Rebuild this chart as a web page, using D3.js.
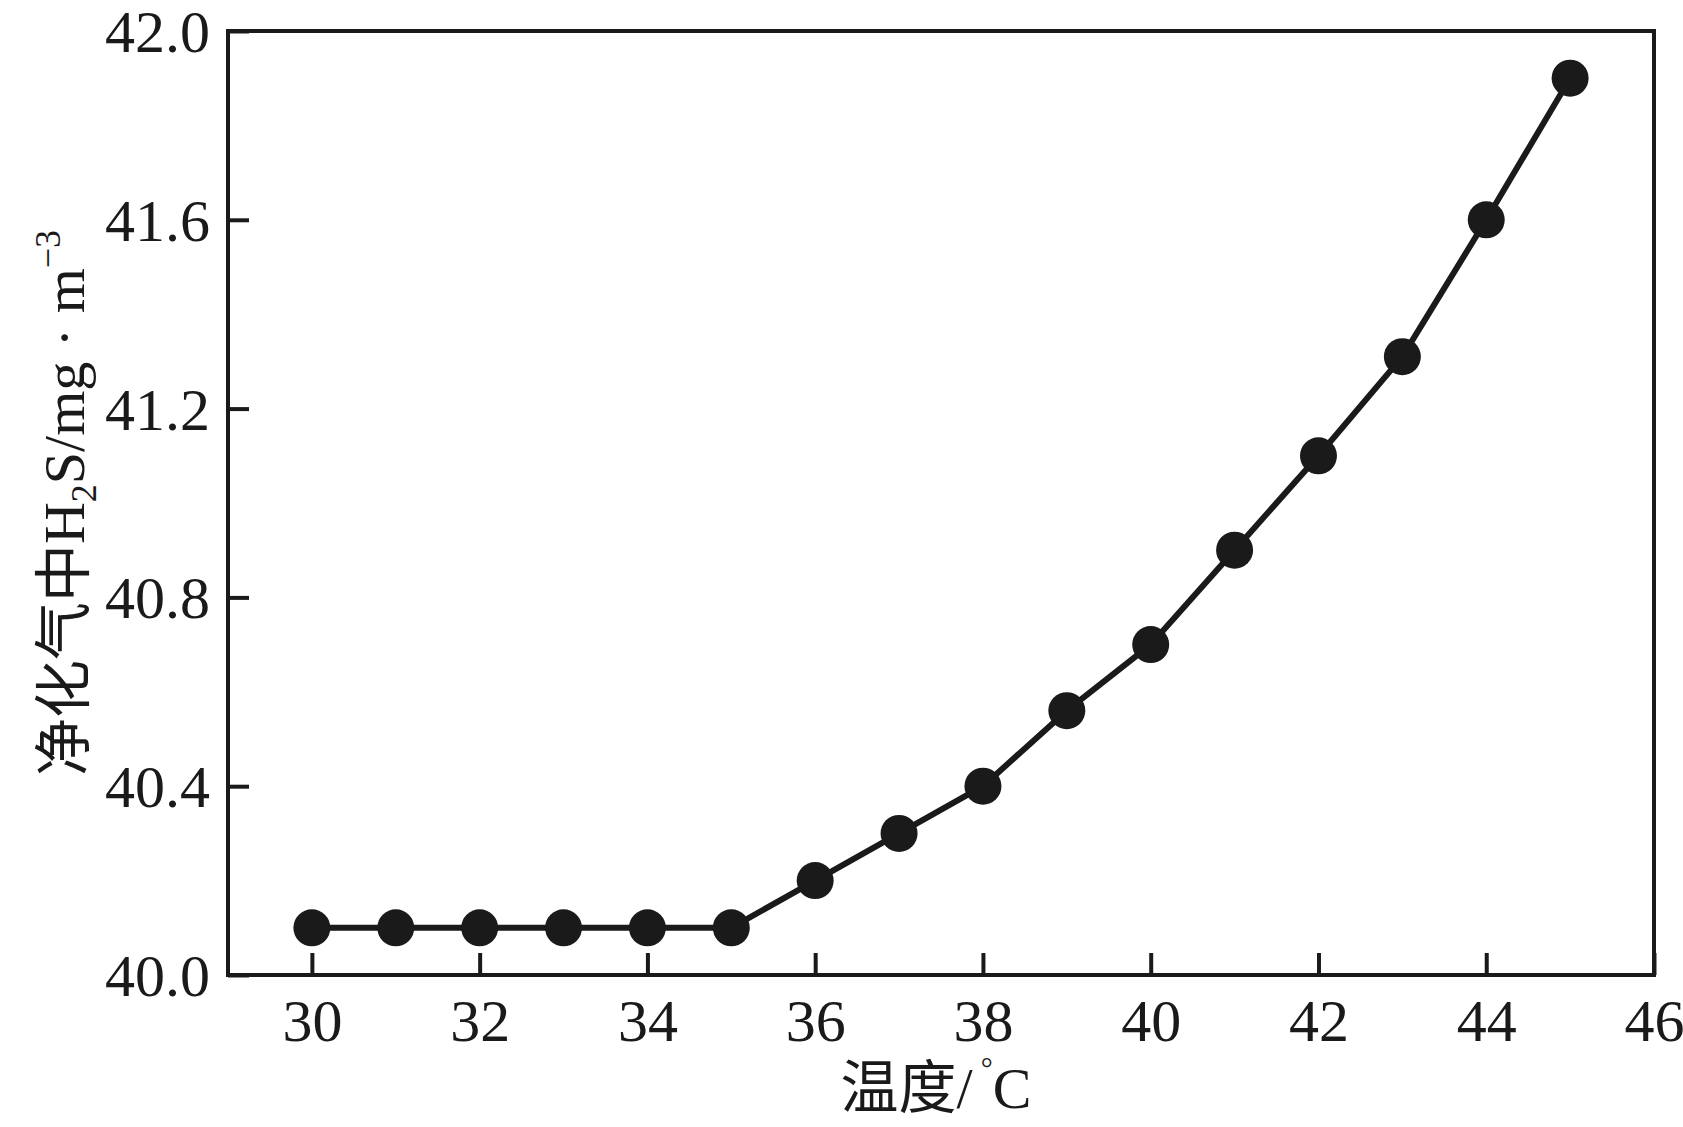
<!DOCTYPE html>
<html lang="zh">
	<head>
		<meta charset="utf-8">
		<title>温度与净化气中H2S</title>
		<script src="https://d3js.org/d3.v7.min.js"></script>
		<style>
			body { margin: 0; background: #fff; }
			text { font-family: "Liberation Serif", "Noto Sans CJK SC", serif; fill: #1a1a1a; }
		</style>
	</head>
	<body>
		<script type="text/javascript">

			// data
			var temps = [30, 31, 32, 33, 34, 35, 36, 37, 38, 39, 40, 41, 42, 43, 44, 45];
			var h2s = [40.1, 40.1, 40.1, 40.1, 40.1, 40.1, 40.2, 40.3, 40.4, 40.56, 40.7, 40.9, 41.1, 41.31, 41.6, 41.9];
			var xTicks = [30, 32, 34, 36, 38, 40, 42, 44, 46];
			var yTicks = [40.0, 40.4, 40.8, 41.2, 41.6, 42.0];

			var w = 1683;
			var h = 1127;
			var plotL = 228, plotR = 1654, plotT = 31, plotB = 975;
			var ink = "#1a1a1a";

			var xScale = d3.scaleLinear().domain([29, 46]).range([plotL, plotR]);
			var yScale = d3.scaleLinear().domain([40, 42]).range([plotB, plotT]);

			var svg = d3.select("body").append("svg").attr("width", w).attr("height", h);

			// axes, ticks pointing inward
			var xAxis = d3.axisBottom(xScale).tickValues(xTicks).tickFormat(d3.format("d"))
				.tickSizeInner(-22).tickSizeOuter(0).tickPadding(23);
			var yAxis = d3.axisLeft(yScale).tickValues(yTicks).tickFormat(d3.format(".1f"))
				.tickSizeInner(-21).tickSizeOuter(0).tickPadding(18);

			var gx = svg.append("g").attr("transform", "translate(0," + plotB + ")").call(xAxis);
			var gy = svg.append("g").attr("transform", "translate(" + plotL + ",0)").call(yAxis);

			[gx, gy].forEach(function(g) {
				g.select(".domain").remove();
				g.selectAll(".tick line").attr("stroke", ink).attr("stroke-width", 4);
				g.selectAll(".tick text").attr("font-size", 60)
					.style("font-family", "'Liberation Serif', serif").attr("fill", ink);
			});
			gx.selectAll(".tick text").attr("dy", "0.72em");
			gy.selectAll(".tick text").attr("dy", "0.34em");

			// frame
			svg.append("rect")
				.attr("x", plotL).attr("y", plotT)
				.attr("width", plotR - plotL).attr("height", plotB - plotT)
				.attr("fill", "none").attr("stroke", ink).attr("stroke-width", 4);

			// line + markers
			var pts = temps.map(function(t, i) { return [t, h2s[i]]; });
			var line = d3.line()
				.x(function(d) { return xScale(d[0]); })
				.y(function(d) { return yScale(d[1]); });

			svg.append("path").datum(pts)
				.attr("d", line)
				.attr("fill", "none").attr("stroke", ink).attr("stroke-width", 6)
				.attr("stroke-linejoin", "round");

			svg.selectAll("circle").data(pts).enter().append("circle")
				.attr("cx", function(d) { return xScale(d[0]); })
				.attr("cy", function(d) { return yScale(d[1]); })
				.attr("r", 18.5)
				.attr("fill", ink);

			// axis titles
			var xt = svg.append("text")
				.attr("x", (plotL + plotR) / 2 - 5).attr("y", 1108)
				.attr("text-anchor", "middle").attr("font-size", 58);
			xt.append("tspan").text("温度/");
			xt.append("tspan").attr("font-size", 30).attr("dx", 8).attr("dy", -30).text("°");
			xt.append("tspan").attr("dy", 30).text("C");

			var yt = svg.append("text")
				.attr("transform", "translate(84," + ((plotT + plotB) / 2) + ") rotate(-90)")
				.attr("text-anchor", "middle").attr("font-size", 58);
			yt.append("tspan").text("净化气中H");
			yt.append("tspan").attr("font-size", 36).attr("dy", 12).text("2");
			yt.append("tspan").attr("dy", -12).text("S/mg · m");
			yt.append("tspan").attr("font-size", 36).attr("dy", -24).text("−3");

		</script>
	</body>
</html>
